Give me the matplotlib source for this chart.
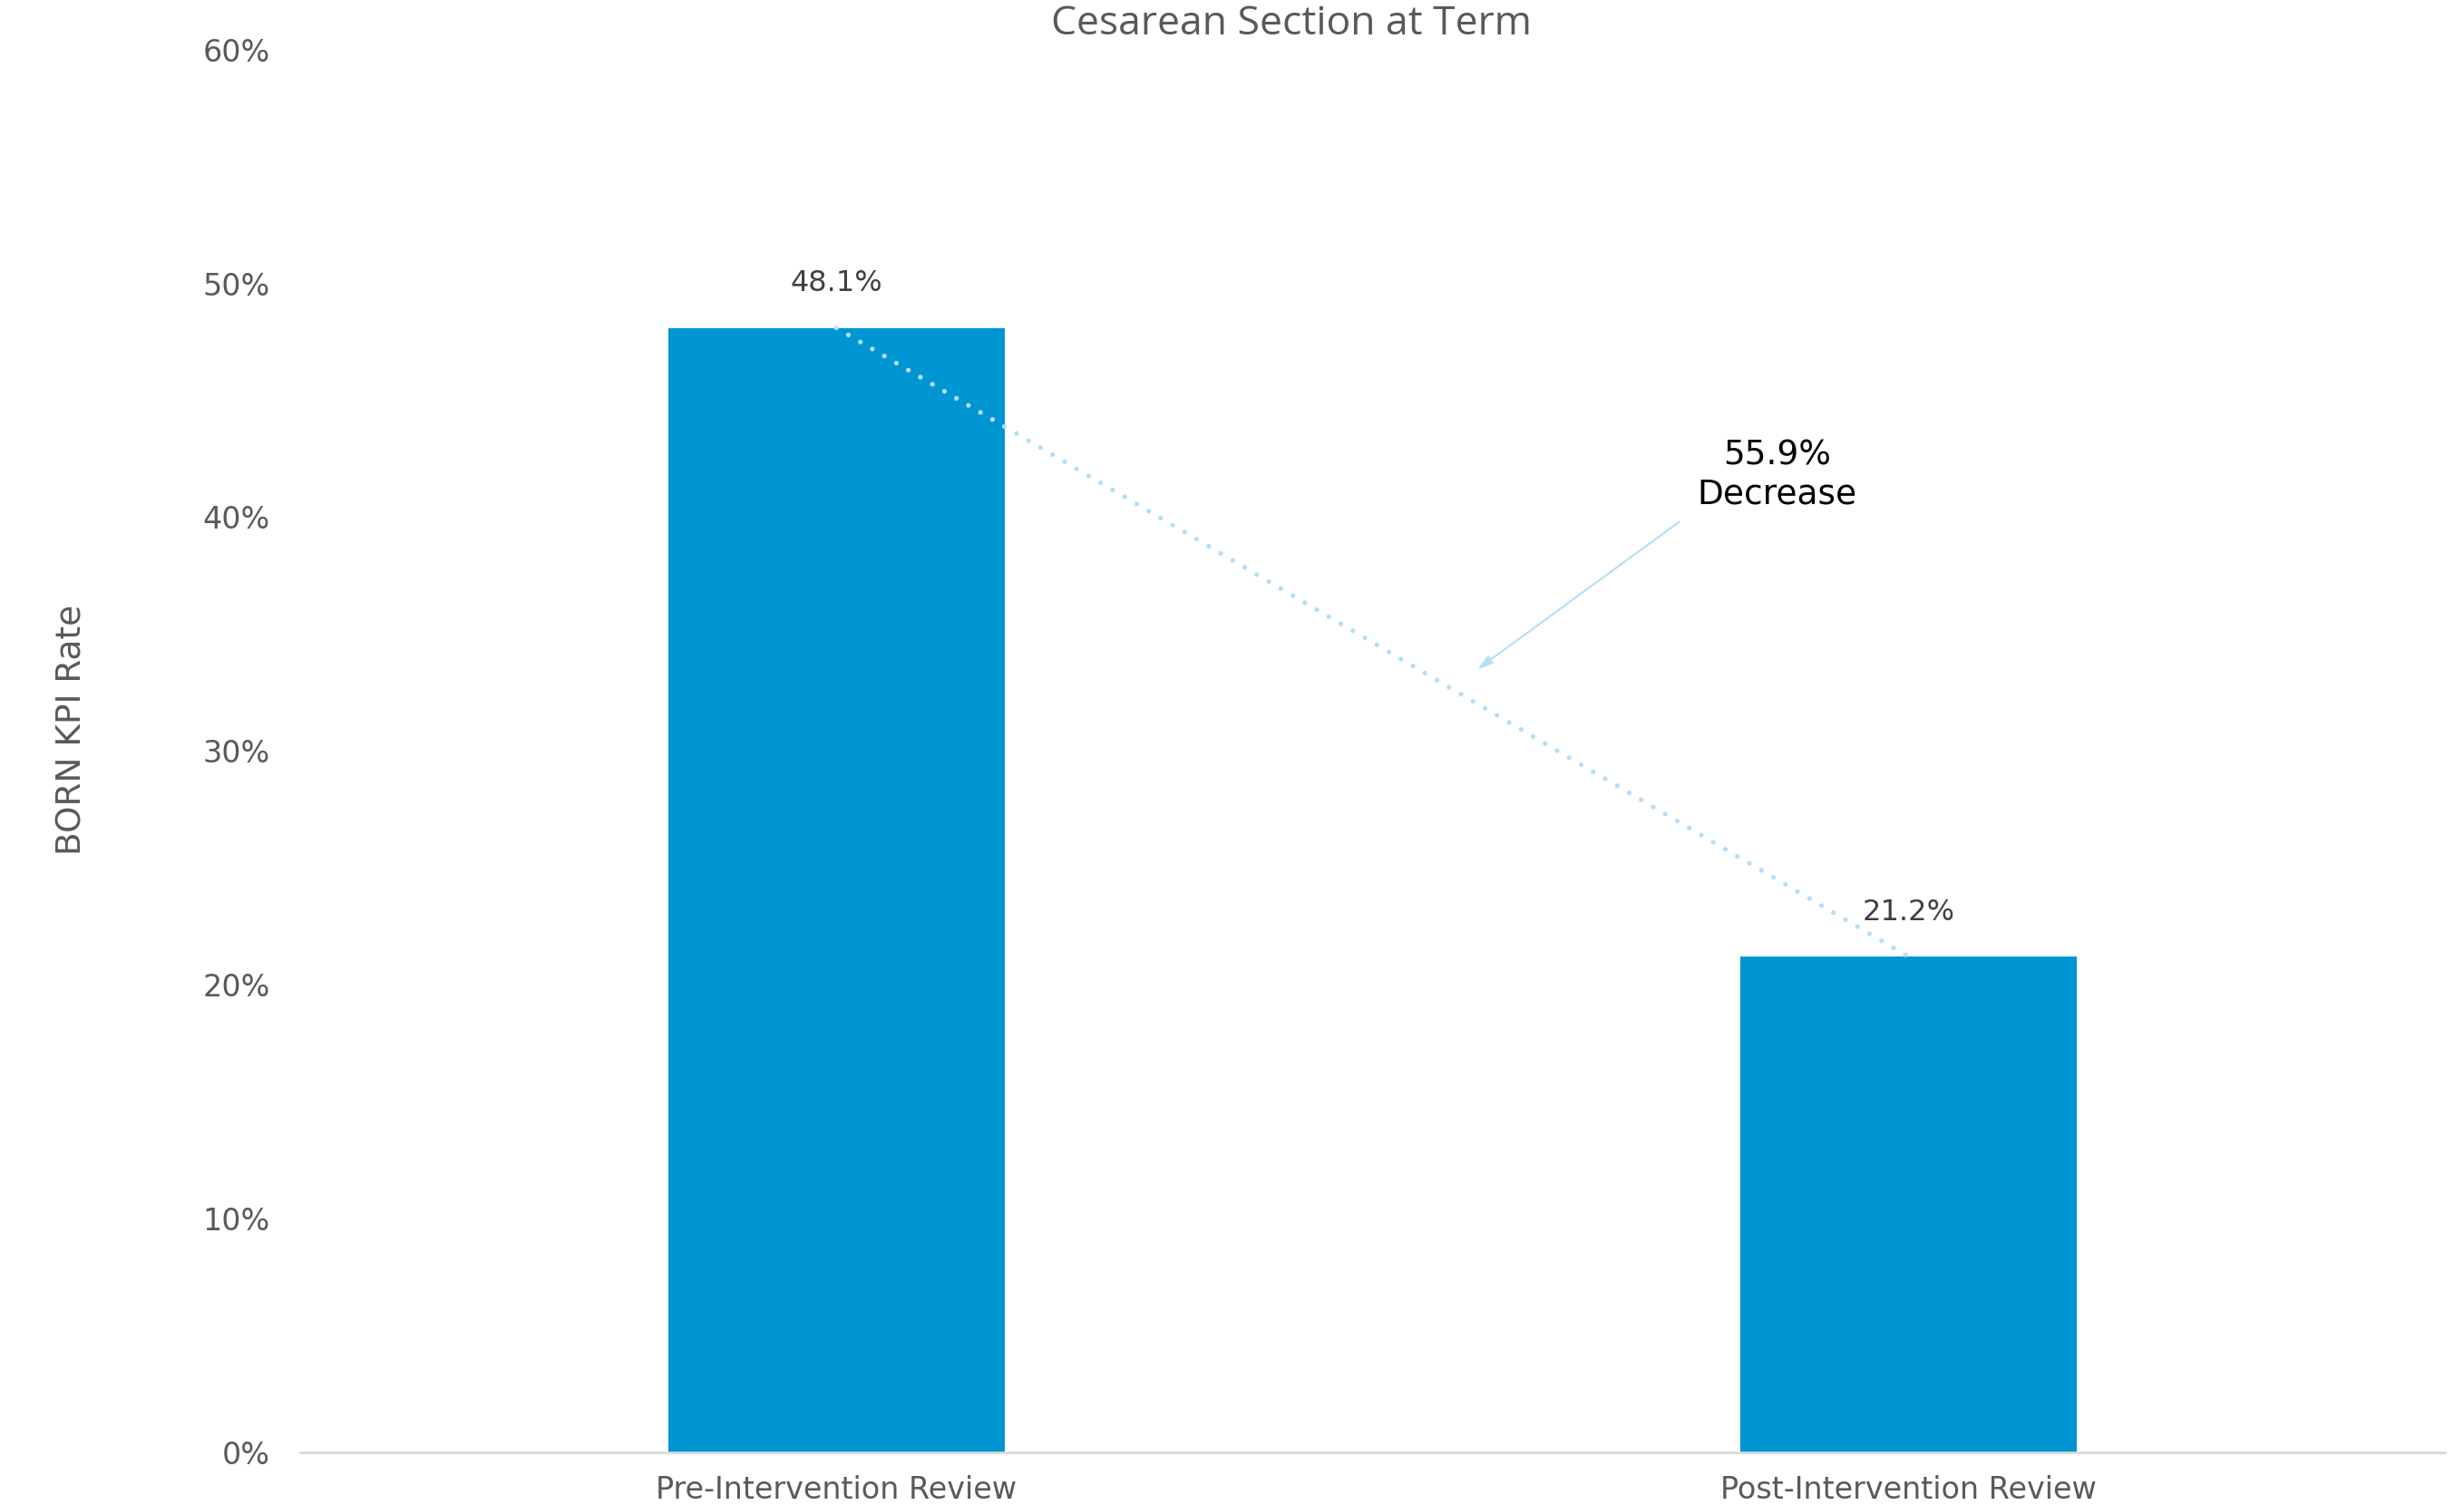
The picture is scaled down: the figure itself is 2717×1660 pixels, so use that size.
import numpy as np
import matplotlib
matplotlib.use("Agg")
import matplotlib.pyplot as plt
from matplotlib.ticker import FuncFormatter

categories = ["Pre-Intervention Review", "Post-Intervention Review"]
rates = [0.481, 0.212]
bar_labels = ["48.1%", "21.2%"]
change_label = "55.9%\nDecrease"
y_ticks = [0.0, 0.1, 0.2, 0.3, 0.4, 0.5, 0.6]

bar_color = '#0095d3'
line_color = '#b5def6'
text_grey = '#595959'

plt.rcParams['font.family'] = ['DejaVu Sans']

fig = plt.figure(figsize=(27.17, 16.6), dpi=100)
ax = fig.add_axes([0.1218, 0.035, 0.8704, 0.932])

x = np.arange(len(categories))
ax.bar(x, rates, width=0.314, color=bar_color, zorder=2)

# dotted connector between bar tops
ax.plot(x, rates, color=line_color, linestyle=(0, (0.01, 2.9)), linewidth=3.8,
        dash_capstyle='round', solid_capstyle='round', zorder=3)

for xi, val, lab in zip(x, rates, bar_labels):
    ax.annotate(lab, (xi, val), xytext=(0, 24), textcoords='offset points',
                ha='center', va='bottom', fontsize=23, color='#404040')

# change annotation: text and arrow drawn separately
ax.text(0.877, 0.418, change_label, ha='center', va='center', fontsize=27,
        color='black', linespacing=1.25)
ax.annotate('', xy=(0.598, 0.335), xytext=(0.786, 0.398),
            arrowprops=dict(arrowstyle='-|>,head_length=1.0,head_width=0.3',
                            color=line_color, lw=1.5, shrinkA=0, shrinkB=0))

ax.set_xlim(-0.5, 1.5)
ax.set_ylim(0, 0.6)
ax.set_yticks(y_ticks)
ax.yaxis.set_major_formatter(FuncFormatter(lambda v, p: "%d%%" % round(v * 100)))
ax.set_xticks(x)
ax.set_xticklabels(categories)
ax.tick_params(axis='both', length=0, labelsize=24, labelcolor=text_grey)
ax.tick_params(axis='y', pad=24)
ax.tick_params(axis='x', pad=18)

for side in ['top', 'right', 'left']:
    ax.spines[side].set_visible(False)
ax.spines['bottom'].set_color('#d9d9d9')
ax.spines['bottom'].set_linewidth(2)

fig.text(0.0294, 0.515, "BORN KPI Rate", rotation=90, ha='center', va='center',
         fontsize=27, color=text_grey)
fig.text(0.524, 0.984, "Cesarean Section at Term", ha='center', va='center',
         fontsize=32, color=text_grey, family=['Open Sans', 'DejaVu Sans'])

fig.savefig("out.png", dpi=100)
